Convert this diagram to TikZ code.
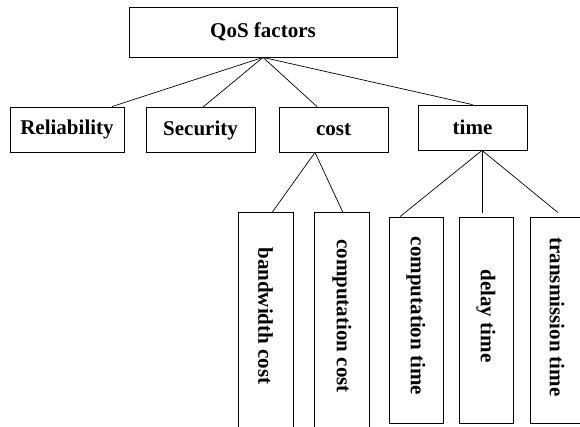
\documentclass[tikz,border=0pt]{standalone}
\usepackage{fontspec}
\setmainfont{Liberation Serif}
\usetikzlibrary{calc}
\begin{document}
\begin{tikzpicture}[x=1pt,y=-1pt,
  box/.style={draw, line width=0.8pt, inner sep=0pt, font=\fontsize{21}{25}\selectfont\bfseries},
  hbox/.style={box, minimum height=45pt},
  vbox/.style={box, minimum width=54pt, minimum height=206pt},
  link/.style={line width=0.7pt}]
\useasboundingbox (0,0) rectangle (580,426);
\clip (0,0) rectangle (580,426);
\node[box, minimum width=268pt, minimum height=50pt] (qos) at (263,32) {QoS factors};
\node[hbox, minimum width=114pt] (rel) at (67,129.5) {Reliability};
\node[hbox, minimum width=109pt] (sec) at (200.5,130) {Security};
\node[hbox, minimum width=109pt] (cost) at (333.5,129.5) {cost};
\node[hbox, minimum width=109pt] (time) at (472.5,127.5) {time};
\node[vbox, draw=none] (bw) at (265.5,316) {\rotatebox{-90}{bandwidth cost}};
\node[vbox, draw=none] (cc) at (342,316) {\rotatebox{-90}{computation cost}};
\node[vbox] (ct) at (416,320) {\rotatebox{-90}{\hspace*{-8pt}computation time}};
\node[vbox] (dt) at (486,320) {\rotatebox{-90}{\hspace*{-8pt}delay time}};
\node[vbox] (tt) at (557,320) {\rotatebox{-90}{\hspace*{-6pt}transmission time}};
\draw[line width=0.8pt] ($(bw.north west)+(0,230)$) -- (bw.north west) -- (bw.north east) -- ++(0,230);
\draw[line width=0.8pt] ($(cc.north west)+(0,230)$) -- (cc.north west) -- (cc.north east) -- ++(0,230);
\coordinate (qa) at (qos.south);
\coordinate (ca) at ($(cost.south)+(-18.5,0)$);
\coordinate (ta) at ($(time.south)+(9.5,0)$);
\draw[link] (qa) -- ($(rel.north)+(45,0)$);
\draw[link] (qa) -- ($(sec.north)+(2.5,0)$);
\draw[link] (qa) -- ($(cost.north)+(-16.5,0)$);
\draw[link] (qa) -- (time.north);
\draw[link] (ca) -- ($(bw.north)+(6.5,0)$);
\draw[link] (ca) -- ($(cc.north)+(1,0)$);
\draw[link] (ta) -- ($(ct.north)+(-16,0)$);
\draw[link] (ta) -- ($(dt.north)+(-4,-4)$);
\draw[link] (ta) -- ($(tt.north)+(1,-4)$);
\end{tikzpicture}
\end{document}
